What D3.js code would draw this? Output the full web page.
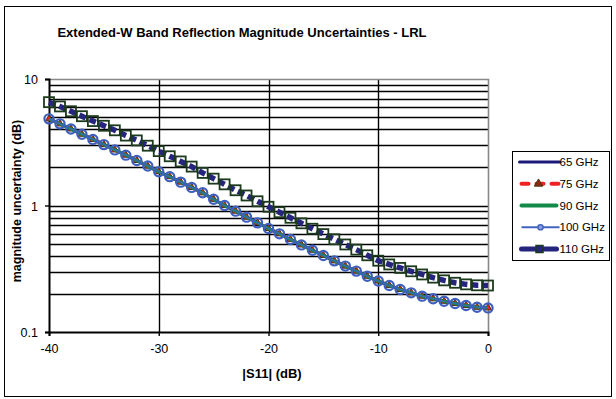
<!DOCTYPE html>
<html>
<head>
<meta charset="utf-8">
<script src="https://cdn.jsdelivr.net/npm/d3@7"></script>
<style>
    body { margin: 0; background: #fff; }
    text { font-family: "Liberation Sans", Arial, sans-serif; fill: #000; }
</style>
</head>
<body>
<div id="chart"></div>
<script>
// data, |S11| from -40 dB to 0 dB in 1 dB steps
var s11 = [-40,-39,-38,-37,-36,-35,-34,-33,-32,-31,-30,-29,-28,-27,-26,-25,-24,-23,-22,-21,
           -20,-19,-18,-17,-16,-15,-14,-13,-12,-11,-10,-9,-8,-7,-6,-5,-4,-3,-2,-1,0];

// 65, 75, 90 and 100 GHz lie on top of each other
var u65 = [4.84,4.42,4.03,3.66,3.33,3.03,2.75,2.50,2.27,2.05,1.85,1.69,1.53,1.39,1.26,1.12,1.00,0.902,0.809,0.729,
           0.658,0.597,0.538,0.488,0.443,0.403,0.365,0.332,0.303,0.276,0.253,0.233,0.217,0.204,0.192,0.183,0.175,0.168,0.162,0.157,0.155];
var u75 = u65.slice();
var u90 = u65.slice();
var u100 = u65.slice();
var u110 = [6.56,6.07,5.56,5.08,4.65,4.27,3.93,3.57,3.27,2.97,2.69,2.45,2.23,2.03,1.81,1.63,1.47,1.32,1.20,1.08,
            0.977,0.885,0.800,0.723,0.655,0.594,0.541,0.492,0.448,0.404,0.366,0.342,0.321,0.302,0.285,0.269,0.256,0.245,0.238,0.234,0.233];

var seriesNames = ["65 GHz", "75 GHz", "90 GHz", "100 GHz", "110 GHz"];
var xTicks = [-40, -30, -20, -10, 0];
var yTicks = [0.1, 1, 10];

var W = 616, H = 399;
var margin = {top: 79, right: 128, bottom: 67, left: 49};

var x = d3.scaleLinear().domain([-40, 0]).range([margin.left, W - margin.right]);
var y = d3.scaleLog().domain([0.1, 10]).range([H - margin.bottom, margin.top]);

var svg = d3.select("#chart").append("svg")
    .attr("width", W)
    .attr("height", H);

// outer frame
svg.append("rect")
    .attr("x", 4.5).attr("y", 6.5)
    .attr("width", 607).attr("height", 390)
    .attr("fill", "none").attr("stroke", "#000");

// title
svg.append("text")
    .attr("x", 242).attr("y", 37)
    .attr("text-anchor", "middle")
    .style("font-size", "13px").style("font-weight", "bold")
    .text("Extended-W Band Reflection Magnitude Uncertainties - LRL");

// horizontal gridlines (log minors)
var gridY = y.ticks().filter(function(d) { return d > 0.1 && d < 10; });
svg.append("g").selectAll("line")
    .data(gridY)
    .enter().append("line")
    .attr("x1", x(-40)).attr("x2", x(0))
    .attr("y1", function(d) { return Math.round(y(d)) + 0.5; })
    .attr("y2", function(d) { return Math.round(y(d)) + 0.5; })
    .attr("stroke", "#000").attr("stroke-width", 1.4);

// vertical gridlines
svg.append("g").selectAll("line")
    .data([-30, -20, -10])
    .enter().append("line")
    .attr("x1", function(d) { return Math.round(x(d)) + 0.5; })
    .attr("x2", function(d) { return Math.round(x(d)) + 0.5; })
    .attr("y1", y(10)).attr("y2", y(0.1))
    .attr("stroke", "#000").attr("stroke-width", 1.4);

// gray plot border top/right
svg.append("path")
    .attr("d", "M" + x(-40) + "," + (y(10) + 0.5) + "H" + (x(0) + 0.5) + "V" + y(0.1))
    .attr("fill", "none").attr("stroke", "#888").attr("stroke-width", 1.6);

// axes
var xAxis = svg.append("g")
    .attr("transform", "translate(0," + y(0.1) + ")")
    .call(d3.axisBottom(x).tickValues(xTicks).tickSize(4).tickFormat(function(d) { return String(d); }));
var yAxis = svg.append("g")
    .attr("transform", "translate(" + x(-40) + ",0)")
    .call(d3.axisLeft(y).tickValues(yTicks).tickSize(4).tickFormat(function(d) { return String(d); }));

[xAxis, yAxis].forEach(function(a) {
    a.select(".domain").attr("stroke", "#000").attr("stroke-width", 2);
    a.selectAll(".tick line").attr("stroke", "#000").attr("stroke-width", 1.4);
    a.selectAll(".tick text").style("font-size", "12.5px").attr("fill", "#000")
        .style("font-family", "'Liberation Sans', Arial, sans-serif");
});
xAxis.selectAll(".tick text").attr("y", 21).attr("dy", 0);
yAxis.selectAll(".tick text").attr("x", -11).attr("dy", "0.36em");

// axis titles
svg.append("text")
    .attr("x", 272).attr("y", 378)
    .attr("text-anchor", "middle")
    .style("font-size", "13px").style("font-weight", "bold")
    .text("|S11| (dB)");
svg.append("text")
    .attr("transform", "translate(21,201) rotate(-90)")
    .attr("text-anchor", "middle")
    .style("font-size", "12.5px").style("font-weight", "bold")
    .text("magnitude uncertainty (dB)");

var line = d3.line()
    .x(function(d) { return x(d[0]); })
    .y(function(d) { return y(d[1]); });
function pts(vals) { return s11.map(function(v, i) { return [v, vals[i]]; }); }

var plot = svg.append("g");

// 65 GHz
plot.append("path").datum(pts(u65)).attr("d", line)
    .attr("fill", "none").attr("stroke", "#1a1a78").attr("stroke-width", 3);
// 75 GHz
plot.append("path").datum(pts(u75)).attr("d", line)
    .attr("fill", "none").attr("stroke", "#ee2222").attr("stroke-width", 3.5)
    .attr("stroke-dasharray", "6,4");
plot.append("g").selectAll("path").data(pts(u75)).enter().append("path")
    .attr("d", d3.symbol().type(d3.symbolTriangle).size(22))
    .attr("transform", function(d) { return "translate(" + x(d[0]) + "," + y(d[1]) + ")"; })
    .attr("fill", "#ee2222").attr("stroke", "#4a3010").attr("stroke-width", 1);
// 90 GHz
plot.append("path").datum(pts(u90)).attr("d", line)
    .attr("fill", "none").attr("stroke", "#138a4a").attr("stroke-width", 3.2);
// 100 GHz
plot.append("path").datum(pts(u100)).attr("d", line)
    .attr("fill", "none").attr("stroke", "#4363c0").attr("stroke-width", 1.2);
plot.append("g").selectAll("circle").data(pts(u100)).enter().append("circle")
    .attr("cx", function(d) { return x(d[0]); })
    .attr("cy", function(d) { return y(d[1]); })
    .attr("r", 4.6)
    .attr("fill", "none").attr("stroke", "#3f5fc0").attr("stroke-width", 2.2);
// 110 GHz
plot.append("path").datum(pts(u110)).attr("d", line)
    .attr("fill", "none").attr("stroke", "#25257e").attr("stroke-width", 5.5)
    .attr("stroke-dasharray", "7,4");
plot.append("g").selectAll("rect").data(pts(u110)).enter().append("rect")
    .attr("x", function(d) { return x(d[0]) - 5; })
    .attr("y", function(d) { return y(d[1]) - 5; })
    .attr("width", 10).attr("height", 10)
    .attr("fill", "none").attr("stroke", "#1c3a1c").attr("stroke-width", 1.8);

// legend
var lg = svg.append("g").attr("transform", "translate(512.5,151.5)");
lg.append("rect").attr("width", 97).attr("height", 109)
    .attr("fill", "#fff").attr("stroke", "#000");
var rowY = function(i) { return 10.5 + i * 21.75; };
var lx1 = 7, lx2 = 45;
// 65
lg.append("line").attr("x1", lx1).attr("x2", lx2 + 2).attr("y1", rowY(0)).attr("y2", rowY(0))
    .attr("stroke", "#1a1a78").attr("stroke-width", 3).attr("stroke-linecap", "round");
// 75
lg.append("line").attr("x1", lx1 + 2).attr("x2", lx2 + 3).attr("y1", rowY(1)).attr("y2", rowY(1))
    .attr("stroke", "#ee2222").attr("stroke-width", 4).attr("stroke-linecap", "round")
    .attr("stroke-dasharray", "7,8");
lg.append("path").attr("d", d3.symbol().type(d3.symbolTriangle).size(30))
    .attr("transform", "translate(" + (lx1 + lx2) / 2 + "," + rowY(1) + ")")
    .attr("fill", "#8a2a10").attr("stroke", "#4a3010");
// 90
lg.append("line").attr("x1", lx1 + 2).attr("x2", lx2 - 1).attr("y1", rowY(2)).attr("y2", rowY(2))
    .attr("stroke", "#138a4a").attr("stroke-width", 4).attr("stroke-linecap", "round");
// 100
lg.append("line").attr("x1", lx1 + 2).attr("x2", lx2 + 2).attr("y1", rowY(3)).attr("y2", rowY(3))
    .attr("stroke", "#4363c0").attr("stroke-width", 2);
lg.append("circle").attr("cx", (lx1 + lx2) / 2 + 2).attr("cy", rowY(3)).attr("r", 2.6)
    .attr("fill", "#8aa0e0").attr("stroke", "#4363c0").attr("stroke-width", 1.5);
// 110
lg.append("line").attr("x1", lx1 + 2).attr("x2", lx2 - 1).attr("y1", rowY(4)).attr("y2", rowY(4))
    .attr("stroke", "#25257e").attr("stroke-width", 5).attr("stroke-linecap", "round");
lg.append("rect").attr("x", (lx1 + lx2) / 2 - 2.5).attr("y", rowY(4) - 3.5).attr("width", 7).attr("height", 7)
    .attr("fill", "#25257e").attr("stroke", "#1c3a1c").attr("stroke-width", 1.5);

lg.selectAll("text.lab").data(seriesNames).enter().append("text")
    .attr("class", "lab")
    .attr("x", 47).attr("y", function(d, i) { return rowY(i) + 4; })
    .style("font-size", "11.5px")
    .text(function(d) { return d; });
</script>
</body>
</html>
